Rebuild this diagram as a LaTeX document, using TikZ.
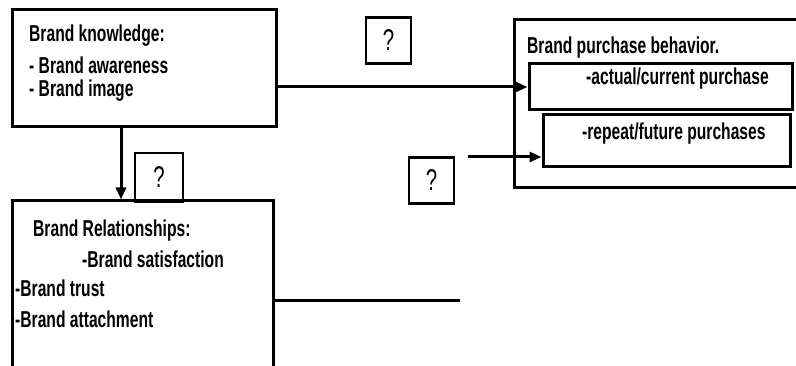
\documentclass[tikz,border=0pt]{standalone}
\usepackage{fontspec}
\usetikzlibrary{arrows.meta}
\newfontfamily\narrowsans[FakeStretch=0.68]{Liberation Sans}

\begin{document}
\begin{tikzpicture}[
  x=1pt, y=-1pt,
  box/.style={
    draw=black, line width=3pt, inner sep=0pt
  },
  qbox/.style={
    draw=black, line width=2.6pt, inner sep=0pt,
    minimum width=45pt, minimum height=46pt,
    font=\narrowsans\fontsize{30}{32}\selectfont
  },
  txt/.style={
    anchor=base west, inner sep=0pt,
    font=\narrowsans\bfseries\fontsize{23}{24}\selectfont
  },
  arr/.style={-{Triangle[length=12pt,width=10pt]}, line width=3pt},
  lin/.style={line width=3pt},
]
\useasboundingbox (0,0) rectangle (796,366);
\clip (0,0) rectangle (796,366);

%% Brand knowledge
\node[box, minimum width=264pt, minimum height=117pt] (know) at (144,68.5) {};
\node[txt] (know1) at (29,42) {Brand knowledge:};
\node[txt] (know2) at (29,74) {- Brand awareness};
\node[txt] (know3) at (29,97) {- Brand image};

%% Brand relationships (open at the bottom)
\node[box, minimum width=261pt, minimum height=200pt] (rel) at (142.5,301) {};
\node[txt] (rel1) at (33,237)  {Brand Relationships:};
\node[txt] (rel2) at (82,268)  {-Brand satisfaction};
\node[txt] (rel3) at (15,297)  {-Brand trust};
\node[txt] (rel4) at (15,328)  {-Brand attachment};

%% Brand purchase behavior (open at the right)
\node[box, minimum width=296pt, minimum height=168pt] (buy) at (662,104) {};
\node[txt] (buy0) at (527,54) {Brand purchase behavior.};
\node[box, minimum width=263pt, minimum height=46pt] (cur) at (660.5,87) {};
\node[txt] (cur1) at (586,85) {-actual/current purchase};
\node[box, minimum width=247pt, minimum height=52pt] (rep) at (666.5,141) {};
\node[txt] (rep1) at (582,140) {-repeat/future purchases};

%% Question marks
\node[qbox] (q1) at (388.5,40.5) {?};
\node[qbox] (q2) at (431.5,180.5) {?};
\node[qbox, minimum width=48pt, minimum height=49pt] (q3) at (159,177.5) {?};

%% ── Arrows ──
\coordinate (repin) at (468,157);
\coordinate (relout) at (460,301);

% knowledge -> current purchase
\draw[arr] (cur.west -| know.east) -- (cur.west);
% knowledge -> relationships
\draw[arr] ([xshift=-23pt]know.south) -- ([xshift=-21.5pt]rel.north);
% into repeat purchase
\draw[arr] (repin) -- (rep.west |- repin);
% relationships, loose end
\draw[lin] (rel.east) -- (relout);

\end{tikzpicture}
\end{document}
